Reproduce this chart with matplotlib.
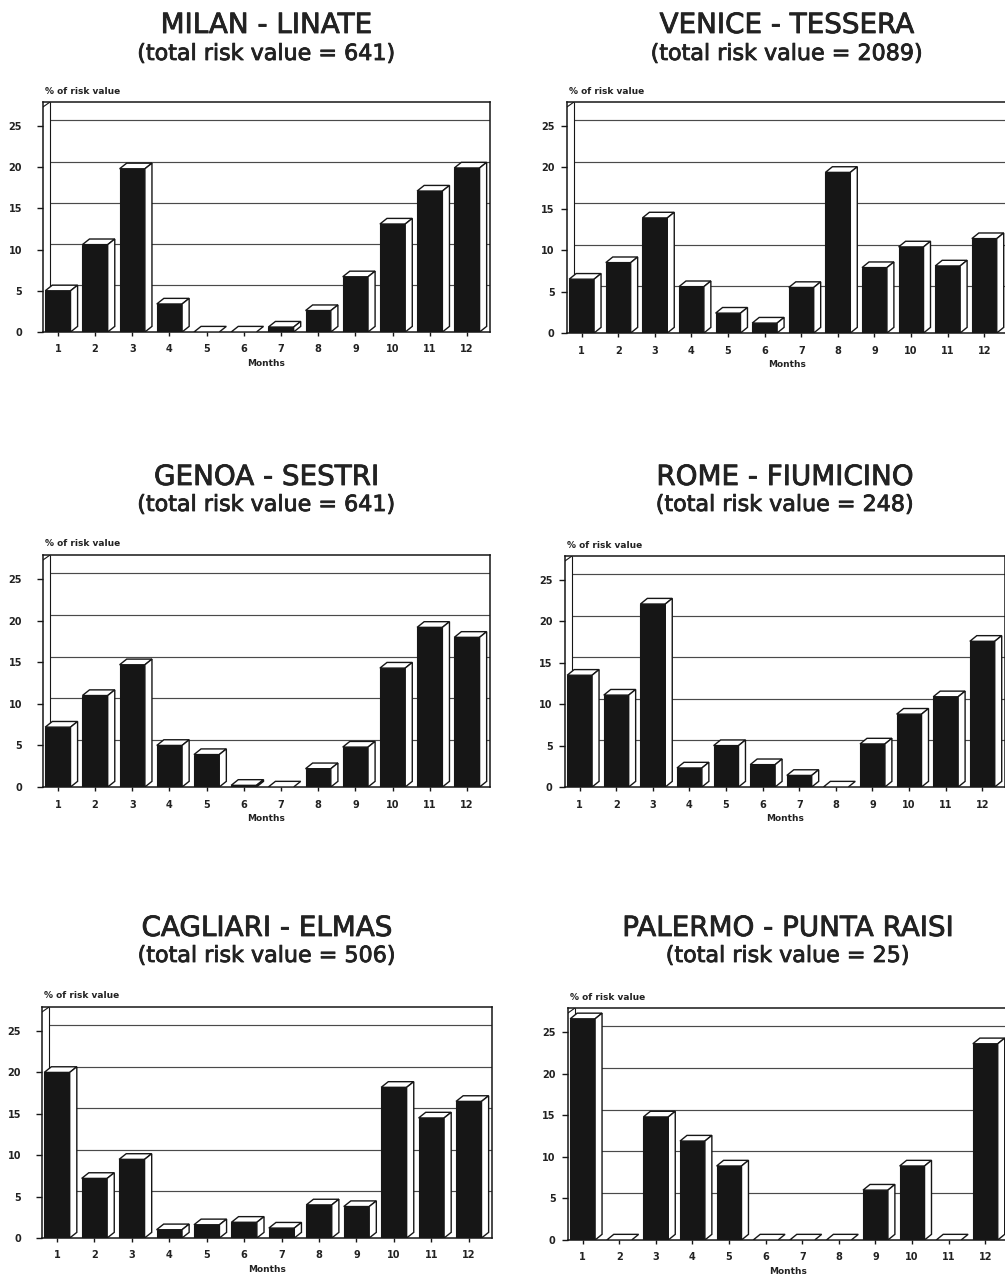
import matplotlib.pyplot as plt
import matplotlib.patheffects as pe
from matplotlib.patches import Polygon
import numpy as np

# monthly share of total risk value (%)
months = np.arange(1, 13)
month_labels = [str(m) for m in months]
y_ticks = [0, 5, 10, 15, 20, 25]

airports = ["MILAN - LINATE", "VENICE - TESSERA", "GENOA - SESTRI",
            "ROME - FIUMICINO", "CAGLIARI - ELMAS", "PALERMO - PUNTA RAISI"]
total_risk = [641, 2089, 641, 248, 506, 25]

milan = [5.0, 10.6, 19.8, 3.4, 0.0, 0.0, 0.6, 2.6, 6.7, 13.1, 17.1, 19.9]
venice = [6.5, 8.5, 13.9, 5.6, 2.4, 1.2, 5.5, 19.4, 7.9, 10.4, 8.1, 11.4]
genoa = [7.2, 11.0, 14.7, 5.0, 3.9, 0.2, 0.0, 2.2, 4.8, 14.3, 19.2, 18.0]
rome = [13.5, 11.1, 22.1, 2.3, 5.0, 2.7, 1.4, 0.0, 5.2, 8.8, 10.9, 17.6]
cagliari = [20.0, 7.2, 9.5, 1.0, 1.6, 1.9, 1.2, 4.0, 3.8, 18.2, 14.5, 16.5]
palermo = [26.6, 0.0, 14.8, 11.9, 8.9, 0.0, 0.0, 0.0, 6.0, 8.9, 0.0, 23.6]

series = [milan, venice, genoa, rome, cagliari, palermo]

W, H = 1005, 1283
fig = plt.figure(figsize=(W / 100, H / 100), dpi=100)
fig.patch.set_facecolor("white")

INK = "#161616"
# axes boxes in pixels: left, top, width, height
boxes = [(43, 102, 447, 230), (567, 102, 440, 231),
         (43, 555, 447, 232), (565, 556, 440, 231),
         (42, 1007, 450, 231), (568, 1008, 440, 232)]
title_y = [(25, 54), (25, 54), (477, 505), (477, 505), (928, 956), (928, 956)]

bw = 0.68   # front face width (months)
dx = 0.19   # 3d depth, x (months)
dy = 0.68   # 3d depth, y (percent)
x0, x1 = 0.6, 12.62
y0, y1 = 0.0, 27.9

heavy = [pe.withStroke(linewidth=0.6, foreground="#222222")]

for i, (name, tot, vals) in enumerate(zip(airports, total_risk, series)):
    l, t, w, h = boxes[i]
    ax = fig.add_axes([l / W, 1 - (t + h) / H, w / W, h / H])
    ax.set_xlim(x0, x1)
    ax.set_ylim(y0, y1)

    # back wall grid
    ax.hlines(np.array(y_ticks[1:]) + dy, x0 + dx, x1, color="#4a4a4a", lw=0.85, zorder=1)
    ax.vlines(x0 + dx, dy, y1, color=INK, lw=0.8, zorder=1)
    ax.plot([x0, x0 + dx], [y1 - 0.6, y1], color=INK, lw=0.8, zorder=1)

    vals = np.asarray(vals)
    ax.bar(months, vals, width=bw, color=INK, edgecolor=INK, lw=0.8, zorder=3)
    for x, v in zip(months, vals):
        xl, xr = x - bw / 2, x + bw / 2
        top = [(xl, v), (xr, v), (xr + dx, v + dy), (xl + dx, v + dy)]
        ax.add_patch(Polygon(top, closed=True, fc="white", ec=INK, lw=1.0, zorder=4))
        if v > 0:
            side = [(xr, 0), (xr + dx, dy), (xr + dx, v + dy), (xr, v)]
            ax.add_patch(Polygon(side, closed=True, fc="white", ec=INK, lw=1.0, zorder=4))

    for s in ax.spines.values():
        s.set_color(INK)
        s.set_linewidth(1.1)

    ax.set_xticks(months)
    ax.set_xticklabels(month_labels, fontsize=7, fontweight="bold", color="#222222")
    ax.set_yticks(y_ticks)
    ax.set_yticklabels([str(v) for v in y_ticks], fontsize=7, fontweight="bold", color="#222222")
    ypad = 11 if i % 2 == 0 else 5
    ax.tick_params(axis="y", length=4, width=1, color=INK, pad=ypad)
    ax.tick_params(axis="x", length=3, width=1, color=INK, pad=6)
    ax.set_xlabel("Months", fontsize=6.5, fontweight="bold", color="#222222", labelpad=3)

    cx = (l + w / 2) / W
    ty, sy = title_y[i]
    fig.text(cx, 1 - ty / H, name, ha="center", va="center", fontsize=20,
             color="#222222", path_effects=heavy)
    fig.text(cx, 1 - sy / H, f"(total risk value = {tot})", ha="center", va="center",
             fontsize=16, color="#222222", path_effects=heavy)
    fig.text((l + 2) / W, 1 - (t - 11) / H, "% of risk value", ha="left", va="center",
             fontsize=6.5, fontweight="bold", color="#222222")

fig.savefig("out.png", dpi=100, facecolor="white")
